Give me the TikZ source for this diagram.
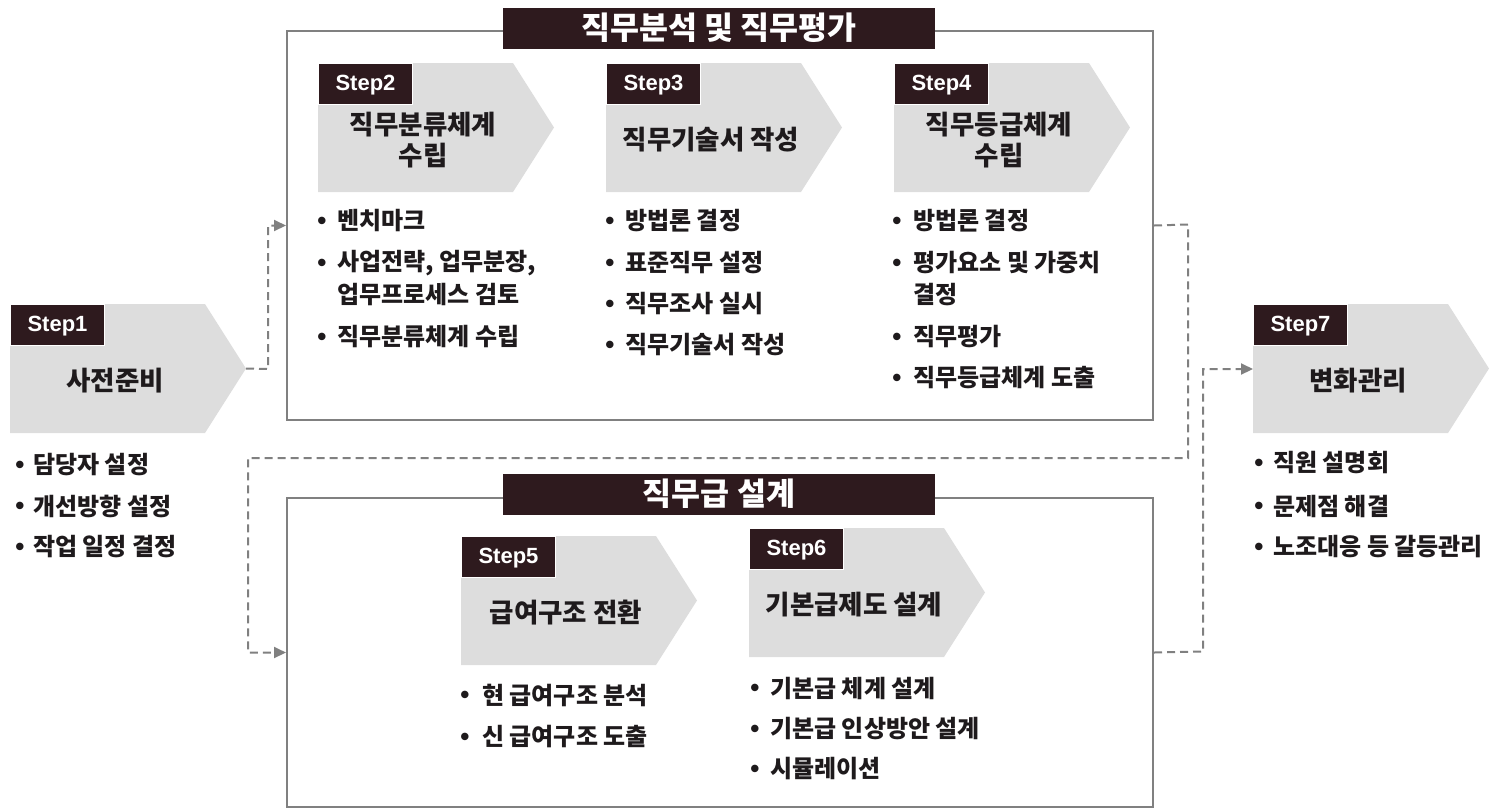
\documentclass[tikz,border=0pt]{standalone}
\usepackage{fontspec}
\setmainfont{Noto Sans CJK KR}
\newfontfamily\latf{Liberation Sans}
\usetikzlibrary{arrows.meta}
\definecolor{dk}{RGB}{46,26,30}
\definecolor{gy}{RGB}{221,221,221}
\definecolor{ln}{RGB}{128,128,128}
\definecolor{tx}{RGB}{30,26,28}
\tikzset{
  frame/.style={draw=ln, line width=2pt, inner sep=0pt, anchor=north west},
  titlebox/.style={fill=dk, text=white, font=\bfseries\fontsize{31.5}{34}\selectfont, minimum width=432pt, minimum height=41pt, inner sep=0pt},
  steplabel/.style={fill=dk, draw=white, line width=1pt, text=white, font=\latf\bfseries\fontsize{22}{24}\selectfont, minimum width=94pt, minimum height=41pt, inner sep=0pt, text height=14pt, text depth=2pt, anchor=north west},
  chevtext/.style={text=tx, font=\bfseries\fontsize{26.5}{31.5}\selectfont, align=center, inner sep=0pt},
  chevfill/.style={fill=gy},
  bul/.style={text=tx, font=\latf\bfseries\fontsize{26}{28}\selectfont, inner sep=0pt},
  item/.style={text=tx, font=\bfseries\fontsize{24}{28}\selectfont, anchor=west, inner sep=0pt},
  conn/.style={draw=ln, line width=2pt, dash pattern=on 8pt off 5pt},
  arr/.style={-{Triangle[length=12pt,width=11pt]}},
}
\newcommand\mychev[5]{%
  \fill[chevfill] (#2,#3) -- (#2+195,#3) -- (#2+236,#3+64.5) -- (#2+195,#3+129) -- (#2,#3+129) -- cycle;
  \coordinate (#1tip) at (#2+236,#3+64.5);
  \coordinate (#1in) at (#2,#3+65);
  \node[steplabel] (#1lab) at (#2,#3) {#4};
  \node[chevtext] (#1txt) at (#2+105,#3+77) {#5};
}
\newcommand\myitem[5]{%
  \node[bul] (#1b) at (#2,#4+2.5) {•};
  \node[item] (#1t) at (#3,#4) {#5};
}
\begin{document}
\begin{tikzpicture}[x=1pt,y=-1pt]
\useasboundingbox (0,0) rectangle (1503,807);
% frames
\node[frame, minimum width=866pt, minimum height=389pt] (top) at (286,30) {};
\node[frame, minimum width=866pt, minimum height=309pt] (bot) at (286,497) {};
\node[titlebox] (toptitle) at (719,28) {직무분석 및 직무평가};
\node[titlebox] (bottitle) at (719,494) {직무급 설계};
% chevrons
\mychev{sa}{10}{304}{Step1}{사전준비}
\mychev{sb}{318}{63}{Step2}{직무분류체계\\수립}
\mychev{sc}{606}{63}{Step3}{직무기술서 작성}
\mychev{sd}{894}{63}{Step4}{직무등급체계\\수립}
\mychev{se}{461}{536}{Step5}{급여구조 전환}
\mychev{sf}{749}{528}{Step6}{기본급제도 설계}
\mychev{sg}{1253}{304}{Step7}{변화관리}
% items
\myitem{a1}{20}{33}{465}{담당자 설정}
\myitem{a2}{20}{33}{506}{개선방향 설정}
\myitem{a3}{20}{33}{547}{작업 일정 결정}
\myitem{b1}{322}{337}{221}{벤치마크}
\myitem{b2}{322}{337}{263}{사업전략, 업무분장,}
\node[item] (b2x) at (337,295) {업무프로세스 검토};
\myitem{b3}{322}{337}{337}{직무분류체계 수립}
\myitem{c1}{610}{625}{221}{방법론 결정}
\myitem{c2}{610}{625}{263}{표준직무 설정}
\myitem{c3}{610}{625}{304}{직무조사 실시}
\myitem{c4}{610}{625}{345}{직무기술서 작성}
\myitem{d1}{897}{913}{221}{방법론 결정}
\myitem{d2}{897}{913}{263}{평가요소 및 가중치}
\node[item] (d2x) at (913,295) {결정};
\myitem{d3}{897}{913}{337}{직무평가}
\myitem{d4}{897}{913}{378}{직무등급체계 도출}
\myitem{e1}{465}{482}{695}{현 급여구조 분석}
\myitem{e2}{465}{482}{737}{신 급여구조 도출}
\myitem{f1}{755}{770}{688}{기본급 체계 설계}
\myitem{f2}{755}{770}{729}{기본급 인상방안 설계}
\myitem{f3}{755}{770}{769}{시뮬레이션}
\myitem{g1}{1259}{1273}{463}{직원 설명회}
\myitem{g2}{1259}{1273}{506}{문제점 해결}
\myitem{g3}{1259}{1273}{547}{노조대응 등 갈등관리}
% connectors
\coordinate (k1) at (268,369);
\draw[conn,arr] (satip) -- (k1) |- (top.west);
\coordinate (k2) at (1188,224.5);
\coordinate (k3) at (1188,458);
\coordinate (k4) at (248,458);
\draw[conn,arr] (top.east) -- (k2) -- (k3) -- (k4) |- (bot.west);
\coordinate (k5) at (1203,651.5);
\draw[conn,arr] (bot.east) -- (k5) |- (sgin);
\end{tikzpicture}
\end{document}
